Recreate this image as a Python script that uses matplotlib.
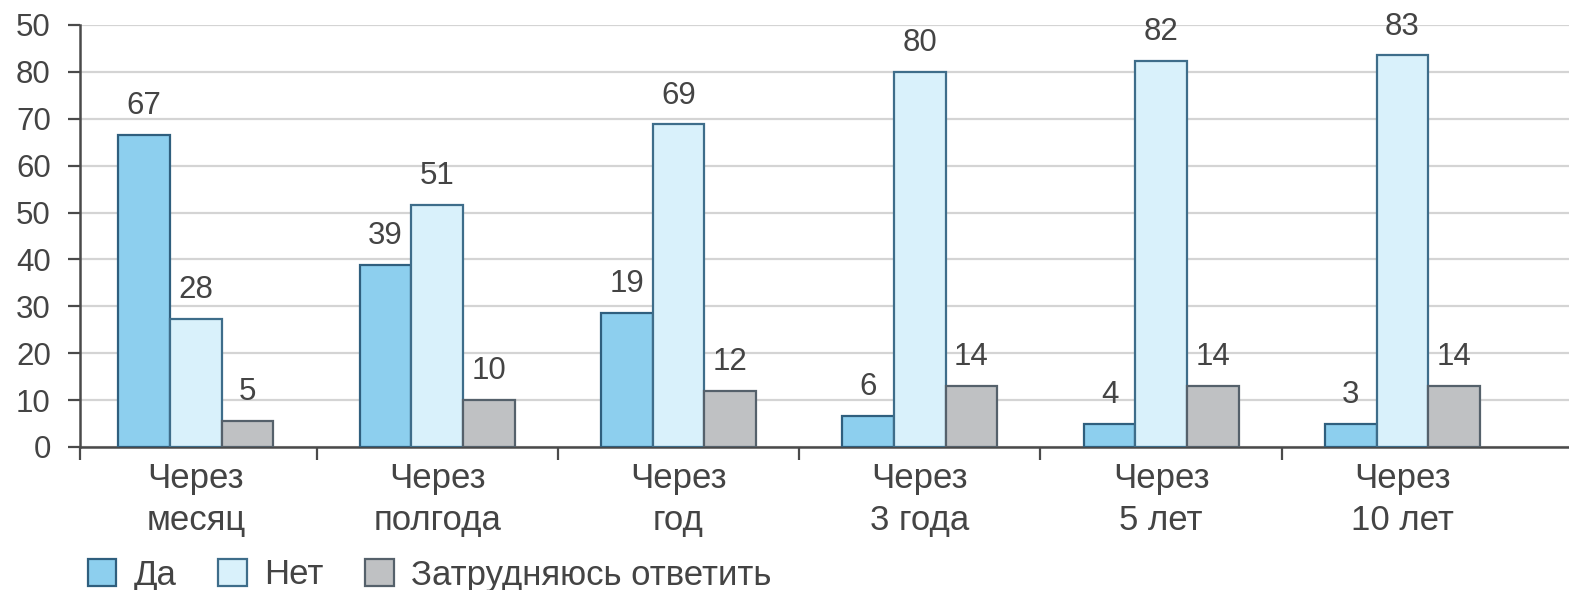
import numpy as np
import matplotlib.pyplot as plt

# Data
categories = ["Через\nмесяц", "Через\nполгода", "Через\nгод",
              "Через\n3 года", "Через\n5 лет", "Через\n10 лет"]
series = ["Да", "Нет", "Затрудняюсь ответить"]

# bar heights as drawn
da = [66.5, 38.9, 28.6, 6.6, 4.9, 4.9]
net = [27.3, 51.7, 68.8, 80.0, 82.4, 83.5]
zatr = [5.6, 10.0, 12.0, 13.0, 13.0, 13.0]

# value labels as printed above the bars
da_lab = ["67", "39", "19", "6", "4", "3"]
net_lab = ["28", "51", "69", "80", "82", "83"]
zatr_lab = ["5", "10", "12", "14", "14", "14"]

yticks = [0, 10, 20, 30, 40, 50, 60, 70, 80, 90]
ytick_labels = ["0", "10", "20", "30", "40", "50", "60", "70", "80", "50"]

plt.rcParams['font.family'] = ['Liberation Sans', 'DejaVu Sans']
txt = '#444444'
axc = '#4a4a4a'

fig = plt.figure(figsize=(15.69, 5.90), dpi=100)
ax = fig.add_axes([80 / 1569, 1 - 447 / 590, 1 - 80 / 1569, (447 - 25) / 590])

x = np.arange(len(categories))
w = 0.214
fills = ['#8dcfee', '#d9f1fb', '#bfc1c3']
edges = ['#2f5f7e', '#3e6d8a', '#55616b']

bars = []
for k, (vals, labs) in enumerate([(da, da_lab), (net, net_lab), (zatr, zatr_lab)]):
    b = ax.bar(x + (k - 1) * w, vals, w, color=fills[k], edgecolor=edges[k],
               linewidth=1.6, label=series[k], zorder=3)
    bars.append(b)
    for rect, lab in zip(b, labs):
        ax.annotate(lab, (rect.get_x() + rect.get_width() / 2, rect.get_height()),
                    xytext=(0, 10), textcoords='offset points', ha='center',
                    va='bottom', fontsize=22.5, color=txt)

ax.set_xlim(-0.48, 5.69)
ax.set_ylim(0, 90)

ax.set_yticks(yticks)
ax.set_yticklabels(ytick_labels)
ax.grid(axis='y', color='#d4d4d4', linewidth=1.6, zorder=0)
ax.set_axisbelow(True)

# separators between groups as major ticks, category names as minor ticks
ax.set_xticks([-0.48, 0.5, 1.5, 2.5, 3.5, 4.5])
ax.set_xticklabels([])
ax.set_xticks(x, minor=True)
ax.set_xticklabels(categories, minor=True)
ax.tick_params(axis='x', which='major', direction='out', length=9, width=1.6, color=axc)
ax.tick_params(axis='x', which='minor', length=0, pad=11, labelsize=25, labelcolor=txt)
ax.tick_params(axis='y', direction='out', length=9, width=1.6, color=axc,
               pad=12, labelsize=22.5, labelcolor=txt)
for lab in ax.get_xticklabels(minor=True):
    lab.set_linespacing(1.32)

for s in ['top', 'right']:
    ax.spines[s].set_visible(False)
for s in ['left', 'bottom']:
    ax.spines[s].set_color(axc)
    ax.spines[s].set_linewidth(1.8)

fig.legend(handles=bars, labels=series, loc='center left',
           bbox_to_anchor=(88 / 1569, 1 - 575 / 590), ncol=3, frameon=False,
           fontsize=25, handlelength=0.82, handleheight=0.82, handletextpad=0.5,
           columnspacing=1.2, borderpad=0, borderaxespad=0, labelcolor=txt)

fig.savefig('out.png', dpi=100)
